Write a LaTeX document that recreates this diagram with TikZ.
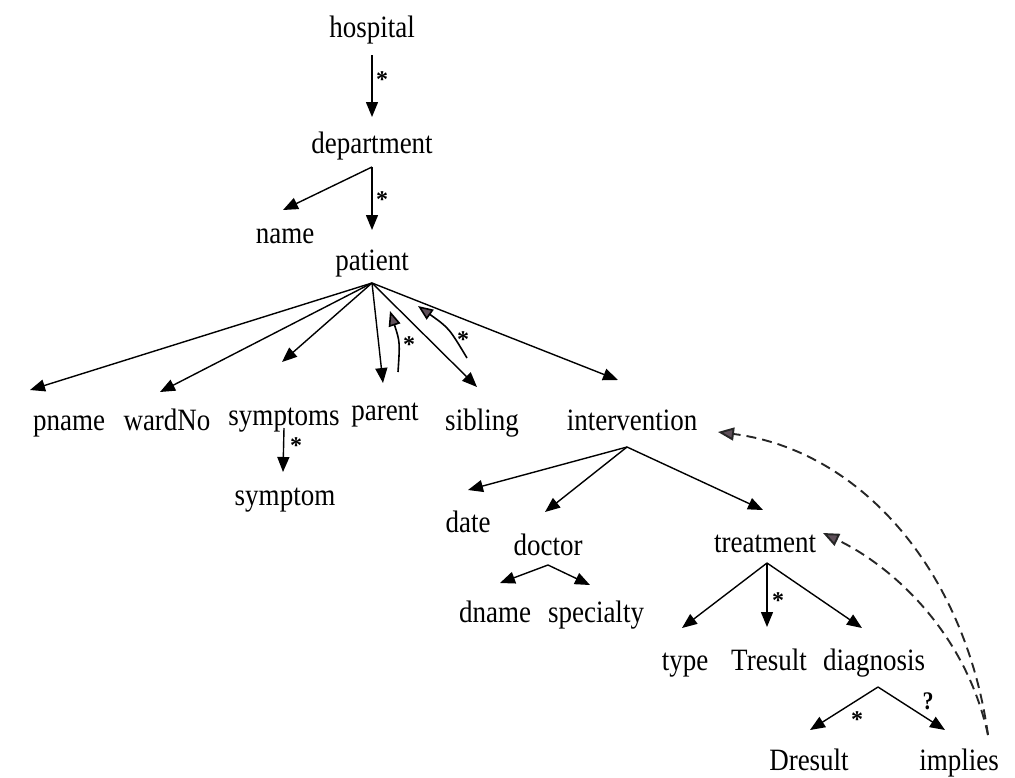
\documentclass[tikz,border=0pt]{standalone}
\usepackage{fontspec}
\usepackage{graphicx}
\setmainfont{Liberation Serif}
\usetikzlibrary{arrows.meta,calc}
\definecolor{headgray}{RGB}{95,80,90}
\newcommand{\tall}[1]{\scalebox{1}[1.15]{#1}}
\begin{document}
\begin{tikzpicture}[x=1pt,y=-1pt,
  lab/.style={font=\fontsize{27}{32}\selectfont, inner sep=0pt, anchor=base},
  card/.style={font=\fontsize{24}{26}\selectfont\bfseries, inner sep=0pt},
  edge/.style={line width=1.4pt, -{Triangle[length=15pt,width=12pt]}},
  back/.style={line width=1.6pt, -{Triangle[length=15pt,width=12pt,fill=headgray]}},
  refer/.style={line width=1.9pt, dash pattern=on 10pt off 6pt, draw=black!85,
    -{Triangle[length=16pt,width=13pt,fill=headgray]}}
]
\useasboundingbox (0,0) rectangle (1015,777);

% nodes
\node[lab] (hospital) at (372,37) {\tall{hospital}};
\node[lab] (department) at (372,153) {\tall{department}};
\node[lab] (name) at (285,243) {\tall{name}};
\node[lab] (patient) at (372,270) {\tall{patient}};
\node[lab] (pname) at (69,430) {\tall{pname}};
\node[lab] (wardNo) at (167,430) {\tall{wardNo}};
\node[lab] (symptoms) at (284,425) {\tall{symptoms}};
\node[lab] (parent) at (385,420) {\tall{parent}};
\node[lab] (sibling) at (482,430) {\tall{sibling}};
\node[lab] (intervention) at (632,430) {\tall{intervention}};
\node[lab] (symptom) at (285,505) {\tall{symptom}};
\node[lab] (date) at (468,532) {\tall{date}};
\node[lab] (doctor) at (548,555) {\tall{doctor}};
\node[lab] (treatment) at (765,552) {\tall{treatment}};
\node[lab] (dname) at (495,622) {\tall{dname}};
\node[lab] (specialty) at (596,622) {\tall{specialty}};
\node[lab] (type) at (685,670) {\tall{type}};
\node[lab] (Tresult) at (769,670) {\tall{Tresult}};
\node[lab] (diagnosis) at (874,670) {\tall{diagnosis}};
\node[lab] (Dresult) at (809,770) {\tall{Dresult}};
\node[lab] (implies) at (959,770) {\tall{implies}};

% fork points
\coordinate (hospital-f) at ($(hospital.base)+(0,18)$);
\coordinate (department-f) at ($(department.base)+(0,14)$);
\coordinate (patient-f) at ($(patient.base)+(0,13)$);
\coordinate (symptoms-f) at ($(symptoms.base)+(0,3)$);
\coordinate (intervention-f) at ($(intervention.base)+(-5,17)$);
\coordinate (doctor-f) at ($(doctor.base)+(0,10)$);
\coordinate (treatment-f) at ($(treatment.base)+(2,11)$);
\coordinate (diagnosis-f) at ($(diagnosis.base)+(4,17)$);

% tree edges
\draw[edge] (hospital-f) -- ($(department.base)+(0,-36)$);
\draw[edge] (department-f) -- ($(name.base)+(-2,-33)$);
\draw[edge] (department-f) -- ($(patient.base)+(0,-40)$);
\draw[edge] (patient-f) -- ($(pname.base)+(-39,-40)$);
\draw[edge] (patient-f) -- ($(wardNo.base)+(-7,-38)$);
\draw[edge] (patient-f) -- ($(symptoms.base)+(-2,-63)$);
\draw[edge] (patient-f) -- ($(parent.base)+(-2,-37)$);
\draw[edge] (patient-f) -- ($(sibling.base)+(-5,-43)$);
\draw[edge] (patient-f) -- ($(intervention.base)+(-14,-50)$);
\draw[edge] (symptoms-f) -- ($(symptom.base)+(-2,-33)$);
\draw[edge] (intervention-f) -- ($(date.base)+(0,-42)$);
\draw[edge] (intervention-f) -- ($(doctor.base)+(-3,-43)$);
\draw[edge] (intervention-f) -- ($(treatment.base)+(-2,-42)$);
\draw[edge] (doctor-f) -- ($(dname.base)+(5,-39)$);
\draw[edge] (doctor-f) -- ($(specialty.base)+(-6,-37)$);
\draw[edge] (treatment-f) -- ($(type.base)+(-3,-42)$);
\draw[edge] (treatment-f) -- ($(Tresult.base)+(-2,-43)$);
\draw[edge] (treatment-f) -- ($(diagnosis.base)+(-12,-42)$);
\draw[edge] (diagnosis-f) -- ($(Dresult.base)+(1,-40)$);
\draw[edge] (diagnosis-f) -- ($(implies.base)+(-14,-40)$);

% back (parent/sibling) arrows
\coordinate (parent-b) at ($(parent.base)+(13,-48)$);
\coordinate (sibling-b) at ($(sibling.base)+(-15,-72)$);
\draw[back] (parent-b) .. controls ($(parent-b)+(2,-30)$) .. ($(patient-f)+(18,28)$);
\draw[back] (sibling-b) .. controls ($(sibling-b)+(-18,-30)$) .. ($(patient-f)+(46,23)$);

% cardinality marks
\node[card] (m1) at (382,80) {*};
\node[card] (m2) at (382,200) {*};
\node[card] (m3) at (409,345) {*};
\node[card] (m4) at (463,340) {*};
\node[card] (m5) at (296,446) {*};
\node[card] (m6) at (778,601) {*};
\node[card] (m7) at (857,720) {*};
\node[card, font=\fontsize{22}{24}\selectfont\bfseries] (m8) at (928,701) {\tall{?}};

% reference arrows
\coordinate (implies-top) at ($(implies.base)+(29,-35)$);
\draw[refer] (implies-top) .. controls (965,570) and (860,450) .. ($(intervention.base)+(86,2)$);
\draw[refer] (implies-top) .. controls (965,630) and (890,565) .. ($(treatment.base)+(58,-19)$);
\end{tikzpicture}
\end{document}
